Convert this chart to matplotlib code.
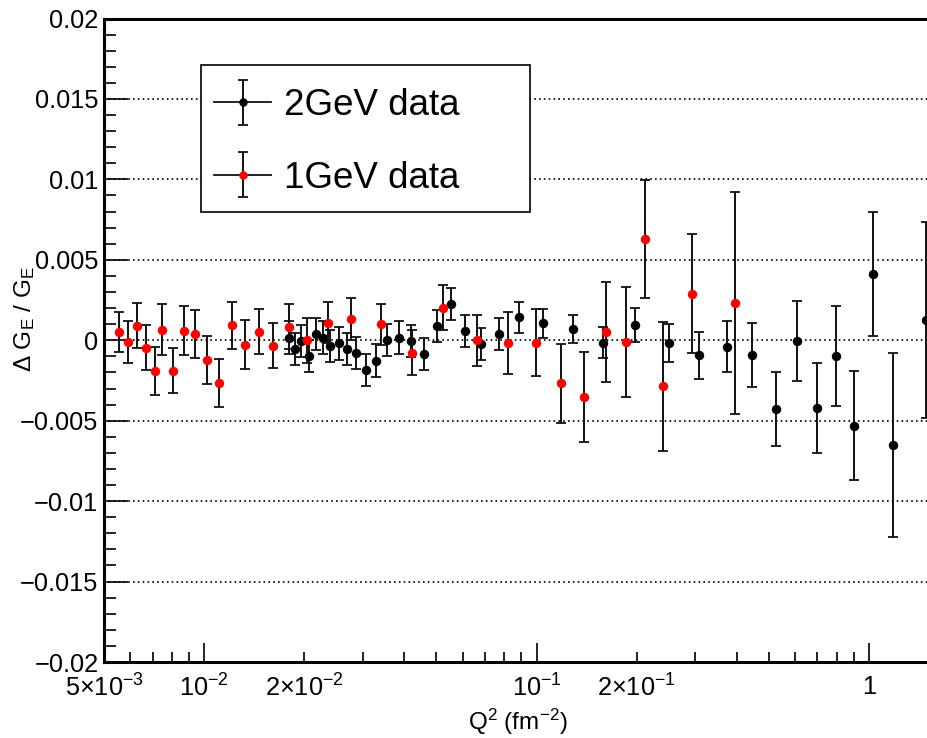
import matplotlib
matplotlib.use('Agg')
import numpy as np
import matplotlib.pyplot as plt
from matplotlib.ticker import FixedLocator, MultipleLocator, FuncFormatter, LogLocator
from matplotlib.legend_handler import HandlerErrorbar, HandlerTuple
from matplotlib.container import ErrorbarContainer
from matplotlib.lines import Line2D
from matplotlib.patches import Rectangle

# 2 GeV data: Q^2 (fm^-2), relative change of G_E, error
q2_2gev = [0.01805, 0.01882, 0.01962, 0.02065, 0.02172, 0.02275, 0.02398,
           0.02542, 0.02698, 0.02871, 0.0307, 0.033, 0.03551, 0.03858,
           0.04202, 0.04589, 0.05031, 0.05533, 0.06109, 0.06809, 0.07715,
           0.08878, 0.1048, 0.1288, 0.1588, 0.1974, 0.2498, 0.3088, 0.3748,
           0.4457, 0.5241, 0.6085, 0.6976, 0.7958, 0.8995, 1.028, 1.183,
           1.481]
dge_2gev = [0.00017, -0.00054, -0.00004, -0.001, 0.0004, 0.00017, -0.00037,
            -0.0002, -0.00052, -0.00077, -0.00186, -0.00126, 0.0, 0.00017,
            -0.00004, -0.00085, 0.0009, 0.00224, 0.00058, -0.00023, 0.00037,
            0.00143, 0.00106, 0.00068, -0.00014, 0.00095, -0.00017, -0.00093,
            -0.0004, -0.00093, -0.0043, -0.00006, -0.0042, -0.00097, -0.0053,
            0.00414, -0.0065, 0.00126]
err_2gev = [0.001, 0.001, 0.001, 0.001, 0.001, 0.001, 0.001, 0.001, 0.001,
            0.001, 0.001, 0.001, 0.001, 0.001, 0.001, 0.00097, 0.001, 0.001,
            0.001, 0.001, 0.001, 0.00096, 0.0009, 0.00086, 0.00097, 0.00105,
            0.0012, 0.00146, 0.0016, 0.002, 0.0023, 0.0025, 0.0028, 0.0031,
            0.0034, 0.00385, 0.0057, 0.0061]

# 1 GeV data
q2_1gev = [0.00555, 0.0059, 0.0063, 0.00669, 0.00711, 0.00749, 0.00807,
           0.00873, 0.00941, 0.0102, 0.0111, 0.01216, 0.0133, 0.01464,
           0.01612, 0.01805, 0.02045, 0.02355, 0.02773, 0.034, 0.04214,
           0.05246, 0.06609, 0.0821, 0.0994, 0.1183, 0.1393, 0.1618, 0.1858,
           0.2121, 0.2396, 0.2942, 0.3954]
dge_1gev = [0.0005, -0.0001, 0.0009, -0.00048, -0.0019, 0.00066, -0.0019,
            0.0006, 0.00037, -0.00124, -0.00265, 0.00093, -0.00027, 0.00054,
            -0.00033, 0.00085, 0.0, 0.0011, 0.00132, 0.001, -0.00077, 0.00203,
            0.0, -0.00017, -0.00014, -0.00267, -0.0035, 0.00052, -0.00012,
            0.0063, -0.00286, 0.0029, 0.00232]
err_1gev = [0.00124, 0.0013, 0.0014, 0.0014, 0.0015, 0.0016, 0.0014, 0.0015,
            0.0015, 0.0015, 0.0015, 0.00146, 0.0015, 0.0014, 0.0014, 0.0014,
            0.0014, 0.00125, 0.0013, 0.00127, 0.0014, 0.0014, 0.0016, 0.0019,
            0.0021, 0.00246, 0.0028, 0.0031, 0.0034, 0.00365, 0.004, 0.0037,
            0.0069]

series_labels = ['2GeV data', '1GeV data']

x_major_ticks = [0.01, 0.1, 1.0]
x_major_labels = [r'$10^{-2}$', r'$10^{-1}$', '1']
x_minor_labelled = [0.005, 0.02, 0.2]
x_minor_labels = [r'$5{\times}10^{-3}$', r'$2{\times}10^{-2}$', r'$2{\times}10^{-1}$']

plt.rcParams['font.family'] = 'Liberation Sans'
plt.rcParams['mathtext.fontset'] = 'custom'
plt.rcParams['mathtext.rm'] = 'Liberation Sans'
plt.rcParams['mathtext.it'] = 'Liberation Sans:italic'
plt.rcParams['mathtext.bf'] = 'Liberation Sans:bold'
plt.rcParams['mathtext.default'] = 'regular'

W, H = 927, 738
fig = plt.figure(figsize=(W / 100, H / 100), dpi=100)
fig.patch.set_facecolor('white')
# frame runs past the right border of the canvas
ax = fig.add_axes([104 / W, 1 - 662 / H, 865 / W, 643.5 / H])

ebar = dict(fmt='o', ms=6.8, ecolor='#111111', elinewidth=1.4,
            capsize=3.4, capthick=1.3)
eb2 = ax.errorbar(q2_2gev, dge_2gev, yerr=err_2gev, color='black',
                  zorder=3, **ebar)
eb1 = ax.errorbar(q2_1gev, dge_1gev, yerr=err_1gev, color='#ff0000',
                  zorder=3.1, **ebar)
for eb in (eb2, eb1):
    eb.lines[0].set_markeredgewidth(0)

ax.set_xscale('log')
ax.set_xlim(0.005, 2.0)
ax.set_ylim(-0.02, 0.02)

def fmt_major(v, pos):
    for t, s in zip(x_major_ticks, x_major_labels):
        if np.isclose(v, t):
            return s
    return ''

def fmt_minor(v, pos):
    for t, s in zip(x_minor_labelled, x_minor_labels):
        if np.isclose(v, t):
            return s
    return ''

ax.xaxis.set_major_locator(FixedLocator(x_major_ticks))
ax.xaxis.set_minor_locator(LogLocator(base=10, subs=(2, 3, 4, 5, 6, 7, 8, 9), numticks=30))
ax.xaxis.set_major_formatter(FuncFormatter(fmt_major))
ax.xaxis.set_minor_formatter(FuncFormatter(fmt_minor))

def fmt_y(v, pos):
    if abs(v) < 1e-12:
        return '0'
    return ('%g' % v).replace('-', '\u2212')

ax.yaxis.set_major_locator(MultipleLocator(0.005))
ax.yaxis.set_minor_locator(MultipleLocator(0.001))
ax.yaxis.set_major_formatter(FuncFormatter(fmt_y))

ax.tick_params(axis='both', which='both', direction='in', top=False,
               right=False, width=1.2, colors='black', labelsize=18.3)
ax.tick_params(axis='x', which='major', length=13.7, pad=9)
ax.tick_params(axis='x', which='minor', length=7.2, pad=9)
ax.tick_params(axis='y', which='major', length=17, pad=4)
ax.tick_params(axis='y', which='minor', length=8.6)

ax.yaxis.grid(True, which='major', color='black', lw=1.2,
              linestyle=(0, (1.0, 1.9)))
ax.set_axisbelow(True)

for sp in ax.spines.values():
    sp.set_linewidth(2.2)

ax.set_xlabel('Q$^{2}$ (fm$^{-2}$)', fontsize=17.5)
ax.xaxis.set_label_coords(518 / W, 1 - 707 / H, transform=fig.transFigure)
ax.set_ylabel('\u0394 G$_{E}$ / G$_{E}$', fontsize=17.5)
ax.yaxis.set_label_coords(37 / W, 1 - 319 / H, transform=fig.transFigure)

# legend box
box = Rectangle((201 / W, 1 - 212 / H), 329 / W, 147 / H,
                transform=fig.transFigure, facecolor='white',
                edgecolor='black', lw=1.2, zorder=4, clip_on=False)
ax.add_artist(box)

hline = Line2D([], [], color='#111111', lw=1.3)
ax.legend([(hline, eb2), (hline, eb1)], series_labels, loc='upper left',
          bbox_to_anchor=(214 / W, 1 - 88 / H), bbox_transform=fig.transFigure,
          frameon=False, borderpad=0, borderaxespad=0, fontsize=26.5,
          handlelength=1.55, handletextpad=0.35, labelspacing=1.02,
          markerscale=0.9,
          handler_map={tuple: HandlerTuple(ndivide=1),
                       ErrorbarContainer: HandlerErrorbar(yerr_size=0.61)})

fig.savefig('out.png', dpi=100)
